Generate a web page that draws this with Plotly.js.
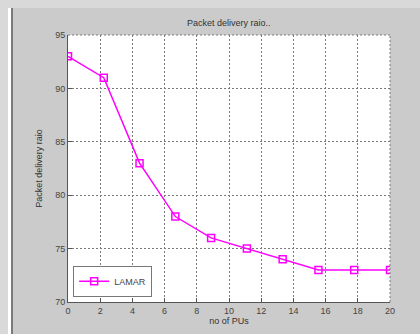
<!DOCTYPE html>
<html>
<head>
<meta charset="utf-8">
<script src="https://cdn.plot.ly/plotly-3.0.1.min.js"></script>
<style>
  html, body { margin:0; padding:0; width:420px; height:334px; overflow:hidden; background:#d9d9d9; }
  #strip { position:absolute; left:8px; top:8px; width:3px; height:326px; background:#ffffff; }
  #edge { position:absolute; left:11px; top:8px; width:2px; height:326px; background:#7a7a7a; }
  #plot { position:absolute; left:13px; top:8px; width:407px; height:326px; }
</style>
</head>
<body>
<div id="strip"></div>
<div id="edge"></div>
<div id="plot"></div>
<script>
const puCounts = [0, 2.222, 4.444, 6.667, 8.889, 11.111, 13.333, 15.556, 17.778, 20];
const lamarPdr = [93, 91, 83, 78, 76, 75, 74, 73, 73, 73];
const xTicks = [0, 2, 4, 6, 8, 10, 12, 14, 16, 18, 20];
const yTicks = [70, 75, 80, 85, 90, 95];

const fontFam = 'Liberation Sans, Arial, sans-serif';
const trace = {
  x: puCounts, y: lamarPdr, name: 'LAMAR',
  type: 'scatter', mode: 'lines+markers',
  line: { color: '#ff00ff', width: 1.5 },
  marker: { symbol: 'square-open', size: 7, color: '#ff00ff', line: { width: 1.5, color: '#ff00ff' } }
};
const axisCommon = {
  showline: true, linecolor: '#555555', linewidth: 1,
  ticks: 'inside', ticklen: 4, tickcolor: '#555555',
  showgrid: true, gridcolor: '#7a7a7a', griddash: '2px,2px', gridwidth: 1,
  zeroline: false, tickfont: { family: fontFam, size: 9, color: '#444444' },
  fixedrange: true
};
const layout = {
  width: 407, height: 326,
  margin: { l: 55, r: 30, t: 27, b: 32 },
  paper_bgcolor: '#cbcbcb', plot_bgcolor: '#ffffff',
  title: { text: 'Packet delivery raio..', font: { family: fontFam, size: 9, color: '#333333' }, x: 0.53, xanchor: 'center', y: 0.955, yanchor: 'middle' },
  xaxis: Object.assign({}, axisCommon, {
    range: [0, 20], tickvals: xTicks, ticktext: xTicks.map(String),
    title: { text: 'no of PUs', font: { family: fontFam, size: 9, color: '#333333' }, standoff: 2 }
  }),
  yaxis: Object.assign({}, axisCommon, {
    range: [70, 95], tickvals: yTicks, ticktext: yTicks.map(String),
    title: { text: 'Packet delivery raio', font: { family: fontFam, size: 9, color: '#333333' }, standoff: 11 }
  }),
  showlegend: true,
  legend: {
    x: 0.016, y: 0.02, xanchor: 'left', yanchor: 'bottom',
    bgcolor: '#ffffff', bordercolor: '#777777', borderwidth: 1,
    font: { family: fontFam, size: 9, color: '#444444' },
    itemwidth: 30, tracegroupgap: 0
  },
  shapes: [
    { type: 'line', xref: 'paper', yref: 'paper', x0: 0, x1: 1, y0: 1, y1: 1, line: { color: '#7a7a7a', width: 1, dash: '2px,2px' } },
    { type: 'line', xref: 'paper', yref: 'paper', x0: 1, x1: 1, y0: 0, y1: 1, line: { color: '#7a7a7a', width: 1, dash: '2px,2px' } }
  ]
};
Plotly.newPlot('plot', [trace], layout, { displayModeBar: false, staticPlot: true });
</script>
</body>
</html>
